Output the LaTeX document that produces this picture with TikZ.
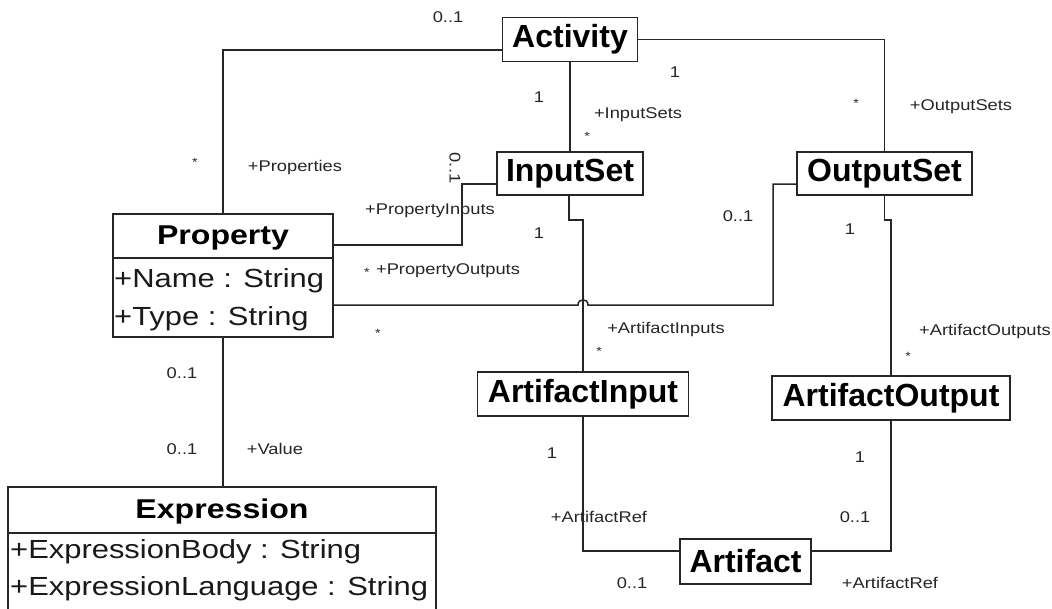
\documentclass[tikz,border=0pt]{standalone}
\usepackage{fontspec}
\setmainfont{Liberation Sans}
\newfontfamily\widefont{Liberation Sans}[FakeStretch=1.18]
\tikzset{
  cls/.style={draw=black!85, text=black, line width=1.5pt, inner sep=0pt, font=\bfseries\fontsize{32}{38}\selectfont},
  box/.style={draw=black!85, line width=1.5pt, inner sep=0pt},
  attr/.style={inner sep=0pt, text=black!90, anchor=base west, font=\widefont\fontsize{26.2}{31}\selectfont},
  ttl/.style={inner sep=0pt, text=black, anchor=base, font=\widefont\bfseries\fontsize{27.2}{32}\selectfont},
  lbl/.style={inner sep=0pt, text=black!85, font=\widefont\fontsize{15.5}{18}\selectfont},
  star/.style={inner sep=0pt, text=black!85, font=\widefont\fontsize{12}{14}\selectfont},
  conn/.style={draw=black!85, line width=1.5pt},
}
\begin{document}
\begin{tikzpicture}[x=1pt, y=-1pt]
\fill[white] (0,0) rectangle (1052,608);
\useasboundingbox (0,0) rectangle (1052,608);

% classes
\node[cls, minimum width=135, minimum height=44] (act)  at (570,39.5)    {Activity};
\node[cls, minimum width=146, minimum height=43] (ins)  at (570,173.5)   {InputSet};
\node[cls, minimum width=175, minimum height=43] (outs) at (884.5,173.5) {OutputSet};
\node[cls, minimum width=211, minimum height=44] (ain)  at (583,394)     {ArtifactInput};
\node[cls, minimum width=238, minimum height=44] (aout) at (891,398)     {ArtifactOutput};
\node[cls, minimum width=131, minimum height=45] (art)  at (745.5,561.5) {Artifact};

% classes with attributes
\node[box, minimum width=220, minimum height=123] (prop) at (223,275.5) {};
\draw[conn] (prop.west |- 0,258) -- (prop.east |- 0,258);
\node[ttl] (propT) at (223,244) {Property};
\node[attr] (propA) at (114,287) {+Name : String};
\node[attr] (propB) at (114,325) {+Type : String};

\node[box, minimum width=428, minimum height=128] (expr) at (222,551) {};
\draw[conn] (expr.west |- 0,533) -- (expr.east |- 0,533);
\node[ttl] (exprT) at (222,518) {Expression};
\node[attr] (exprA) at (10,558) {+ExpressionBody : String};
\node[attr] (exprB) at (10,595) {+ExpressionLanguage : String};

% associations
\draw[conn] (act.west |- 0,50) -| (prop.north);
\draw[conn] (act.south) -- (ins.north);
\draw[conn] (act.east) -| (outs.north);
\draw[conn] (prop.east |- 0,245) -- (462,245) -- (462,184) -- (ins.west |- 0,184);
\draw[conn] (prop.east |- 0,305) -- (578,305) .. controls (578,298) and (588,298) .. (588,305)
            -- (773,305) -- (773,184) -- (outs.west |- 0,184);
\draw[conn] (ins.south -| 569,0) -- (569,220) -- (583,220) -- (ain.north);
\draw[conn] (outs.south) -- (884.5,220) -- (891,220) -- (aout.north);
\draw[conn] (ain.south) -- (583,551) -- (art.west |- 0,551);
\draw[conn] (aout.south) -- (891,551) -- (art.east |- 0,551);
\draw[conn] (prop.south) -- (prop.south |- expr.north);

% role names and multiplicities
\node[lbl] (l1)  at (448,17)  {0..1};
\node[lbl] (l2)  at (675,72)  {1};
\node[lbl] (l3)  at (539,97)  {1};
\node[lbl] (l4)  at (638,115) {+InputSets};
\node[star] (l5)  at (587,136) {*};
\node[star] (l6)  at (856,103) {*};
\node[lbl] (l7)  at (961,107) {+OutputSets};
\node[star] (l8)  at (195,162) {*};
\node[lbl] (l9)  at (295,167) {+Properties};
\node[lbl, rotate=-90] (l10) at (455,168) {0..1};
\node[lbl] (l11) at (430,211) {+PropertyInputs};
\node[lbl] (l12) at (539,233) {1};
\node[lbl] (l13) at (738,216) {0..1};
\node[lbl] (l14) at (850,229) {1};
\node[star] (l15) at (367,272) {*};
\node[lbl] (l16) at (448,271) {+PropertyOutputs};
\node[star] (l17) at (378,333) {*};
\node[lbl] (l18) at (666,329) {+ArtifactInputs};
\node[star] (l19) at (599,351) {*};
\node[lbl] (l20) at (985,331) {+ArtifactOutputs};
\node[star] (l21) at (908,356) {*};
\node[lbl] (l22) at (182,373) {0..1};
\node[lbl] (l23) at (182,449) {0..1};
\node[lbl] (l24) at (275,449) {+Value};
\node[lbl] (l25) at (552,453) {1};
\node[lbl] (l26) at (860,457) {1};
\node[lbl] (l27) at (599,517) {+ArtifactRef};
\node[lbl] (l28) at (855,517) {0..1};
\node[lbl] (l29) at (632,583) {0..1};
\node[lbl] (l30) at (890,583) {+ArtifactRef};
\end{tikzpicture}
\end{document}
